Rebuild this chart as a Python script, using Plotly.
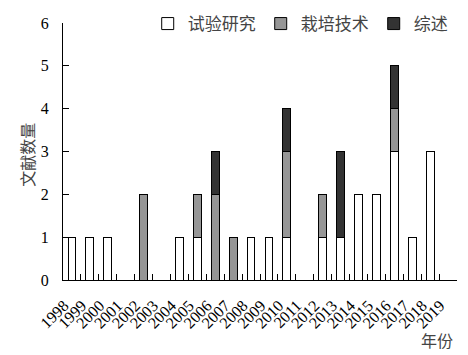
import plotly.graph_objects as go

years = [str(y) for y in range(1998, 2020)]
shiyan = [1, 1, 1, 0, 0, 0, 1, 1, 0, 0, 1, 1, 1, 0, 1, 1, 2, 2, 3, 1, 3, 0]
zaipei = [0, 0, 0, 0, 2, 0, 0, 1, 2, 1, 0, 0, 2, 0, 1, 0, 0, 0, 1, 0, 0, 0]
zongshu = [0, 0, 0, 0, 0, 0, 0, 0, 1, 0, 0, 0, 1, 0, 0, 2, 0, 0, 1, 0, 0, 0]

series = [("试验研究", shiyan, "#ffffff"), ("栽培技术", zaipei, "#969696"), ("综述", zongshu, "#333333")]

fig = go.Figure()
for name, vals, col in series:
    fig.add_trace(go.Bar(x=years, y=vals, name=name,
                         marker=dict(color=col, line=dict(color="#000000", width=1))))

serif = "Liberation Serif, Times New Roman, serif"
cjk = "Noto Sans CJK SC, sans-serif"

fig.update_layout(
    width=468, height=355,
    margin=dict(l=63, r=11, t=23, b=75, autoexpand=False),
    paper_bgcolor="white", plot_bgcolor="white",
    barmode="stack", bargap=0.56,
    showlegend=True,
    legend=dict(orientation="h", x=0.215, xanchor="left", y=0.996, yanchor="middle",
                font=dict(family=cjk, size=17, color="#444444"),
                bgcolor="rgba(0,0,0,0)", traceorder="normal"),
    xaxis=dict(type="category", range=[-0.5, 21.5], showline=True, linecolor="black", linewidth=1,
               ticks="inside", ticklen=6, tickcolor="black", tickson="boundaries",
               tickmode="linear", tick0=0, dtick=1,
               tickangle=-45, tickfont=dict(family=serif, size=16, color="black"),
               ticklabelstandoff=9, ticklabelshift=-8,
               showgrid=False, zeroline=False, fixedrange=True, automargin=False),
    yaxis=dict(range=[0, 6], dtick=1, showline=True, linecolor="black", linewidth=1,
               ticks="inside", ticklen=6, tickcolor="black",
               tickfont=dict(family=serif, size=16, color="black"),
               ticklabelstandoff=10,
               showgrid=False, zeroline=False, fixedrange=True, automargin=False),
    annotations=[
        dict(text="年份", xref="paper", yref="paper", x=0.949, y=-0.233, showarrow=False,
             font=dict(family=cjk, size=16, color="#444444"), xanchor="center", yanchor="middle"),
        dict(text="文献数量", xref="paper", yref="paper", x=-0.09, y=0.486, showarrow=False,
             textangle=-90, font=dict(family=cjk, size=16, color="#444444"),
             xanchor="center", yanchor="middle"),
    ],
)

fig.write_html("out.html", config={"displayModeBar": False},
               post_script="document.body.style.margin='0';document.body.style.overflow='hidden';")
